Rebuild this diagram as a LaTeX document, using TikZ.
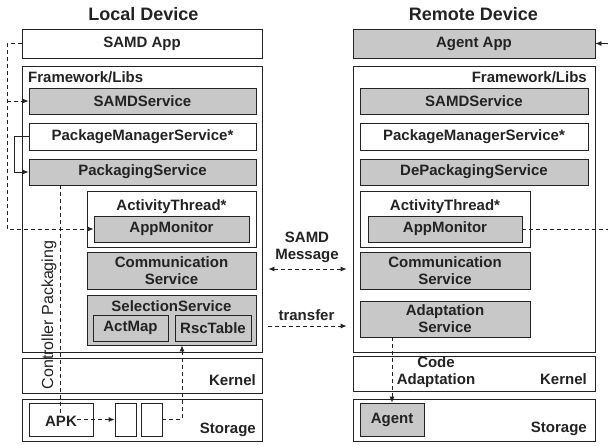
\documentclass[tikz,border=0pt]{standalone}
\usepackage{fontspec}
\setmainfont{Liberation Sans}
\usetikzlibrary{arrows.meta,calc}
\definecolor{fillg}{RGB}{200,200,200}
\definecolor{ink}{RGB}{35,35,35}
\begin{document}
\begin{tikzpicture}[x=1pt,y=-1pt,
  txt/.style={font=\bfseries\fontsize{15}{17}\selectfont, text=ink},
  box/.style={draw=ink, line width=0.8pt, inner sep=0pt, txt, align=center},
  wbox/.style={box, fill=white},
  gbox/.style={box, fill=fillg},
  wh/.style 2 args={minimum width=#1pt, minimum height=#2pt},
  lbl/.style={txt, inner sep=0pt},
  ttl/.style={font=\bfseries\fontsize{18}{20}\selectfont, text=ink, inner sep=0pt},
  dline/.style={draw=ink, line width=0.8pt, dash pattern=on 4pt off 3pt},
  sline/.style={draw=ink, line width=0.8pt},
  arr/.style={-{Latex[length=6pt,width=5pt]}},
  darr/.style={{Latex[length=6pt,width=5pt]}-{Latex[length=6pt,width=5pt]}}
]
\useasboundingbox (0,0) rectangle (608,445);
\fill[white] (0,0) rectangle (608,445);

% ---------- Local device ----------
\node[ttl, anchor=base] (tL) at (143.5,20.7) {Local Device};
\node[wbox, wh={240}{29}] (samdapp) at (142,43.5) {SAMD App};
\node[wbox, wh={240}{286}] (fwL) at (142,209) {};
\node[lbl, anchor=base west] (fwLlbl) at (28,82.7) {Framework/Libs};
\node[gbox, wh={227}{26}] (samdsL) at (142.5,101) {SAMDService};
\node[wbox, wh={227}{27}] (pmsL) at (142.5,136.5) {PackageManagerService*};
\node[gbox, wh={227}{26}] (packL) at (142.5,172) {PackagingService};
\node[wbox, wh={169}{56}] (atL) at (171.5,219) {};
\node[lbl, anchor=base] (atLlbl) at (171.5,210.5) {ActivityThread*};
\node[gbox, wh={155}{26}] (amL) at (171.5,229) {AppMonitor};
\node[gbox, wh={169}{37}] (commL) at (171.5,270.5) {Communication\\Service};
\node[gbox, wh={169}{50}] (selL) at (171.5,320) {};
\node[lbl, anchor=base] (selLlbl) at (171.5,311.7) {SelectionService};
\node[gbox, wh={75}{26}] (actmap) at (130.5,328) {ActMap};
\node[gbox, wh={76}{26}] (rsc) at (213,328) {RscTable};
\node[wbox, wh={240}{35}] (kernL) at (142,375.5) {};
\node[lbl, anchor=base east] (kernLlbl) at (256,385) {Kernel};
\node[wbox, wh={240}{42}] (storL) at (142,420) {};
\node[lbl, anchor=base east] (storLlbl) at (256,433) {Storage};
\node[wbox, wh={64}{33}] (apk) at (61,419.5) {};
\node[lbl, anchor=base] (apklbl) at (61,426.5) {APK};
\node[wbox, wh={21}{33}] (sb1) at (125.5,419.5) {};
\node[wbox, wh={21}{33}] (sb2) at (151.5,419.5) {};

% ---------- Remote device ----------
\node[ttl, anchor=base] (tR) at (473.5,20.7) {Remote Device};
\node[gbox, wh={242}{29}] (agentapp) at (474,43.5) {Agent App};
\node[wbox, wh={242}{286}] (fwR) at (474,209) {};
\node[lbl, anchor=base east] (fwRlbl) at (587,82.7) {Framework/Libs};
\node[gbox, wh={228}{26}] (samdsR) at (474,101) {SAMDService};
\node[wbox, wh={228}{27}] (pmsR) at (474,136.5) {PackageManagerService*};
\node[gbox, wh={228}{26}] (depR) at (474,172) {DePackagingService};
\node[wbox, wh={170}{56}] (atR) at (445,219) {};
\node[lbl, anchor=base] (atRlbl) at (445,210.5) {ActivityThread*};
\node[gbox, wh={154}{26}] (amR) at (445,229) {AppMonitor};
\node[gbox, wh={170}{37}] (commR) at (445,270.5) {Communication\\Service};
\node[gbox, wh={170}{36}] (adaptR) at (445,319) {Adaptation\\Service};
\node[wbox, wh={242}{35}] (kernR) at (474,373.5) {};
\node[lbl, anchor=base east] (kernRlbl) at (587,384) {Kernel};
\node[wbox, wh={242}{42}] (storR) at (474,420) {};
\node[lbl, anchor=base east] (storRlbl) at (587,432.7) {Storage};
\node[gbox, wh={64}{33}] (agent) at (392,419.5) {Agent};

% ---------- connectors (local) ----------
\coordinate (c1) at (7,43.5);
\draw[dline, arr] (samdapp.west) -- (c1) |- (amL.west);
\draw[dline, arr] (c1 |- samdsL.west) -- (samdsL.west);
\coordinate (c2) at (14,136.5);
\draw[sline, arr] (pmsL.west) -- (c2) |- (packL.west);
\coordinate (c3) at (60,413);
\draw[dline] (c3 |- packL.south) -- (c3);
\node[inner sep=0pt, text=ink, font=\fontsize{16}{18}\selectfont, rotate=90] (ctrl) at (49,315) {Controller Packaging};
\draw[dline, arr] (apklbl.east |- apk.center) -- (sb1.west);
\coordinate (c5) at (182,419.5);
\draw[dline, arr] (sb2.east) -- (c5) -- (c5 |- selL.south);

% ---------- between devices ----------
\draw[dline, darr, shorten <=6pt, shorten >=6pt] (fwL.east |- 0,269) -- (fwR.west |- 0,269);
\node[lbl, align=center] (msg) at (307,247) {SAMD\\Message};
\draw[dline, arr, shorten <=6pt, shorten >=6pt] (fwL.east |- 0,326) -- (fwR.west |- 0,326);
\node[lbl, anchor=base] (trn) at (306.5,320) {transfer};

% ---------- connectors (remote) ----------
\coordinate (e1) at (612,229);
\coordinate (e2) at (612,43.5);
\draw[dline] (amR.east) -- (e1);
\draw[sline, arr] (e2) -- (agentapp.east);
\draw[dline, arr] (agent.north |- adaptR.south) -- (agent.north);
\node[lbl, align=center] (code) at (436,372) {Code\\Adaptation};
\end{tikzpicture}
\end{document}
